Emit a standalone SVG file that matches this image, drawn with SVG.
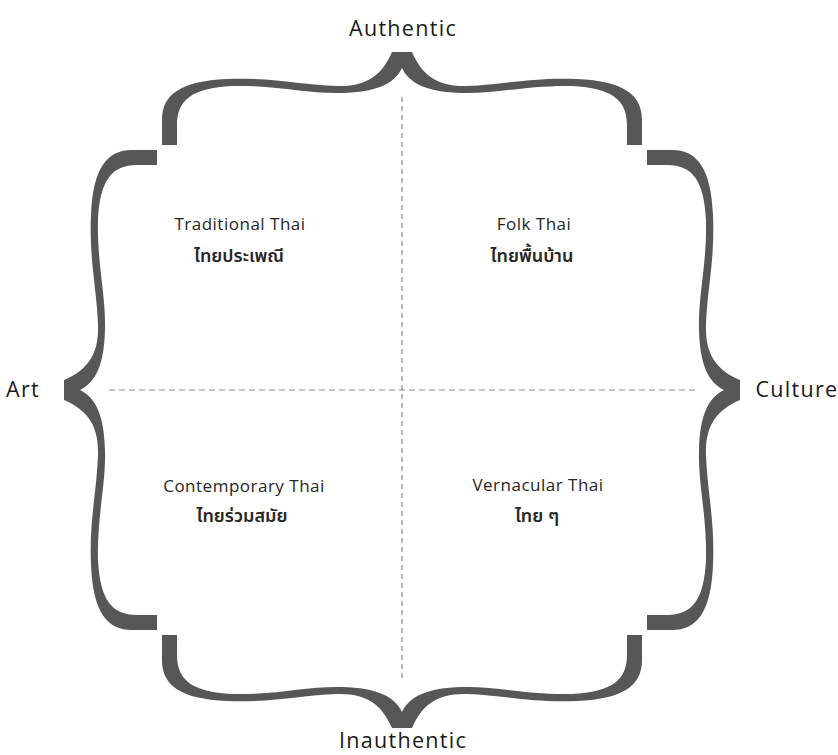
<svg xmlns="http://www.w3.org/2000/svg" xmlns:xlink="http://www.w3.org/1999/xlink" width="838" height="755" viewBox="0 0 838 755">
  <style>
    .brace { fill: #575757; }
    .axis { fill: none; stroke: #8a8a8a; stroke-width: 1.2; }
    .pole { font-family: "Open Sans", "Noto Sans", "DejaVu Sans", sans-serif; font-size: 21.5px; letter-spacing: 1.3px; fill: #1a1a1a; text-anchor: middle; }
    .lbl { font-family: "Open Sans", "Noto Sans", "DejaVu Sans", sans-serif; font-size: 17px; font-weight: 500; letter-spacing: 0.5px; fill: #262626; text-anchor: middle; }
    .th { font-family: "Noto Sans Thai", "Open Sans", "Noto Sans", sans-serif; font-size: 18px; font-weight: 600; fill: #262626; text-anchor: middle; }
  </style>
  <defs>
    <path id="half" d="M -240 -245 L -240 -270 C -240 -295 -222 -309 -175 -311 C -130 -313 -100 -305 -65 -304 C -35 -303 -20 -315 -10 -338 L 0 -338 L 0 -322 C -8 -306 -25 -298 -60 -297 C -95 -296 -125 -305 -170 -304 C -210 -302 -225 -290 -225 -265 L -225 -245 Z"/>
  </defs>
  <rect width="838" height="755" fill="#ffffff"/>
  <g id="connectors">
    <line class="axis" x1="402" y1="97" x2="402" y2="682" stroke-dasharray="5 4"/>
    <line class="axis" x1="109" y1="390" x2="695" y2="390" stroke-dasharray="6 4"/>
  </g>
  <g id="frame">
    <g id="brace-top" transform="translate(402,390)">
      <use xlink:href="#half" class="brace"/>
      <use xlink:href="#half" class="brace" transform="scale(-1,1)"/>
    </g>
    <g id="brace-bottom" transform="translate(402,390)">
      <use xlink:href="#half" class="brace" transform="scale(1,-1)"/>
      <use xlink:href="#half" class="brace" transform="scale(-1,-1)"/>
    </g>
    <g id="brace-left" transform="translate(402,390)">
      <use xlink:href="#half" class="brace" transform="matrix(0,1,1,0,0,0)"/>
      <use xlink:href="#half" class="brace" transform="matrix(0,-1,1,0,0,0)"/>
    </g>
    <g id="brace-right" transform="translate(402,390)">
      <use xlink:href="#half" class="brace" transform="matrix(0,1,-1,0,0,0)"/>
      <use xlink:href="#half" class="brace" transform="matrix(0,-1,-1,0,0,0)"/>
    </g>
  </g>
  <g id="pole-authentic"><text class="pole" x="403" y="36">Authentic</text></g>
  <g id="pole-inauthentic"><text class="pole" x="403" y="748">Inauthentic</text></g>
  <g id="pole-art"><text class="pole" x="23" y="397">Art</text></g>
  <g id="pole-culture"><text class="pole" x="797" y="397">Culture</text></g>
  <g id="q-traditional">
    <text class="lbl" x="240" y="230">Traditional Thai</text>
    <text class="th" x="239" y="262">ไทยประเพณี</text>
  </g>
  <g id="q-folk">
    <text class="lbl" x="534" y="230">Folk Thai</text>
    <text class="th" x="532" y="262">ไทยพื้นบ้าน</text>
  </g>
  <g id="q-contemporary">
    <text class="lbl" x="244" y="492">Contemporary Thai</text>
    <text class="th" x="242" y="522">ไทยร่วมสมัย</text>
  </g>
  <g id="q-vernacular">
    <text class="lbl" x="538" y="491">Vernacular Thai</text>
    <text class="th" x="537" y="522">ไทย ๆ</text>
  </g>
</svg>
